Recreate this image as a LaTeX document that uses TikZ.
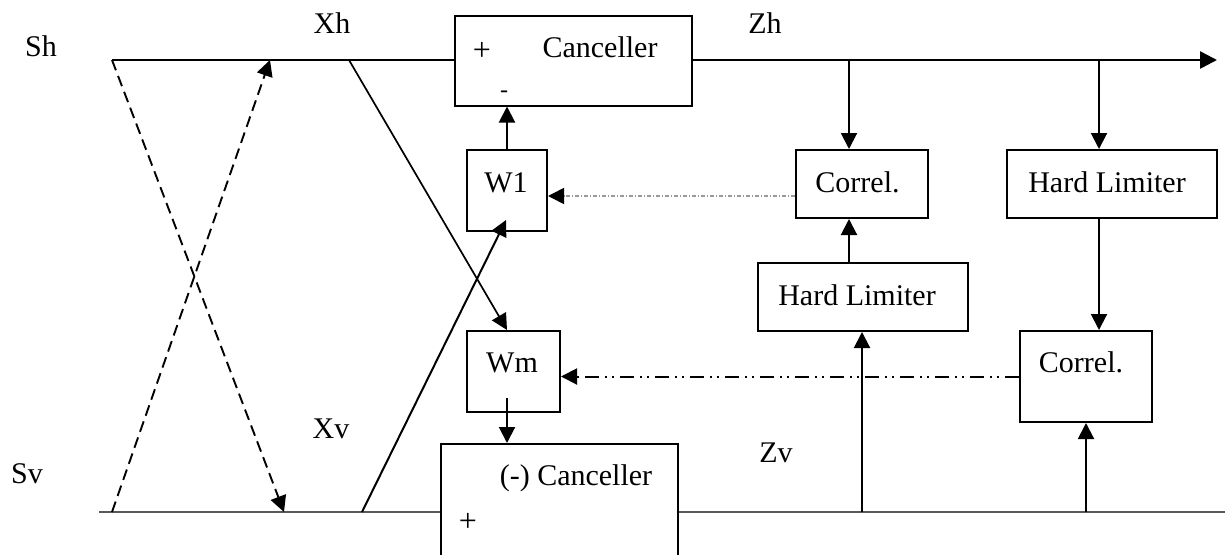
\documentclass[tikz,border=0pt]{standalone}
\usepackage{fontspec}
\setmainfont{Liberation Serif}
\usetikzlibrary{arrows.meta}
\begin{document}
\begin{tikzpicture}[x=1pt,y=-1pt,
  box/.style={draw,line width=2pt,rectangle,inner sep=0pt},
  lbl/.style={anchor=base,inner sep=0pt,font=\fontsize{30}{36}\selectfont},
  sgn/.style={anchor=center,inner sep=0pt,font=\fontsize{32}{36}\selectfont},
  msgn/.style={anchor=center,inner sep=0pt,font=\fontsize{24}{28}\selectfont},
  tip/.style={-{Triangle[length=16pt,width=16pt,black]}},
  arr/.style={line width=2pt,tip},
  thinline/.style={line width=1.3pt},
  graybus/.style={line width=1.6pt,draw=black!65},
  dsh/.style={line width=1.9pt,dash pattern=on 11pt off 6pt,tip},
  ddd/.style={line width=2pt,dash pattern=on 14pt off 6pt on 2pt off 5pt on 2pt off 6pt,tip},
  gdot/.style={line width=1.6pt,draw=black!40,dash pattern=on 4pt off 2pt on 1pt off 2pt,tip},
]
\clip (0,0) rectangle (1225,554);
\useasboundingbox (0,0) rectangle (1225,554);

% boxes
\node[box,minimum width=237pt,minimum height=90pt] (canc) at (573.5,60.5) {};
\node[box,minimum width=80pt,minimum height=81pt] (w1) at (507,190.5) {};
\node[box,minimum width=93pt,minimum height=81pt] (wm) at (513.5,371.5) {};
\node[box,minimum width=132pt,minimum height=68pt] (corr1) at (862,184) {};
\node[box,minimum width=210pt,minimum height=68pt] (hl1) at (1112,184) {};
\node[box,minimum width=210pt,minimum height=68pt] (hl2) at (863,297) {};
\node[box,minimum width=132pt,minimum height=91pt] (corr2) at (1086,376.5) {};
\node[box,minimum width=237pt,minimum height=150pt] (canc2) at (559.5,519) {};

% texts
\node[lbl] (tcanc) at (600,57) {Canceller};
\node[sgn] (tplus1) at (482,51) {+};
\node[msgn] (tminus1) at (504,94) {-};
\node[lbl] (tsh) at (41,56) {Sh};
\node[lbl] (txh) at (332,33) {Xh};
\node[lbl] (tzh) at (765,33) {Zh};
\node[lbl] (tw1) at (506,192) {W1};
\node[lbl] (tcorr1) at (857.5,192) {Correl.};
\node[lbl] (thl1) at (1107,192) {Hard Limiter};
\node[lbl] (thl2) at (857,305) {Hard Limiter};
\node[lbl] (tcorr2) at (1081,372) {Correl.};
\node[lbl] (twm) at (512,372) {Wm};
\node[lbl] (txv) at (331,438) {Xv};
\node[lbl] (tsv) at (27,483) {Sv};
\node[lbl] (tzv) at (776,462) {Zv};
\node[lbl] (tcanc2) at (576,485) {(-) Canceller};
\node[sgn] (tplus2) at (468,522) {+};

% coordinates
\coordinate (sh0) at (112,60);
\coordinate (sv0) at (99,512);
\coordinate (sv1) at (112,512);
\coordinate (dn) at (284,512);
\coordinate (up) at (270,60);
\coordinate (xh0) at (349,60);
\coordinate (xv0) at (362,512);
\coordinate (w1in) at (506,220);
\coordinate (wmout) at (507,398);
\coordinate (zhend) at (1217,60);
\coordinate (b1) at (849,60);
\coordinate (b2) at (1099,60);
\coordinate (z1) at (862,512);
\coordinate (z2) at (1086,512);
\coordinate (rend) at (1225,512);

% buses
\draw[thinline] (sh0) -- (sh0 -| canc.west);
\draw[line width=2.5pt,-{Triangle[length=17pt,width=17pt]}] (zhend -| canc.east) -- (zhend);
\draw[graybus] (sv0) -- (sv0 -| canc2.west);
\draw[graybus] (sv0 -| canc2.east) -- (rend);

% dashed crossing
\draw[dsh] (sh0) -- (dn);
\draw[dsh] (sv1) -- (up);

% solid diagonals
\draw[line width=1.7pt,tip] (xh0) -- (wmout |- wm.north);
\draw[line width=2pt,tip] (xv0) -- (w1in);

% vertical arrows
\draw[arr] (w1.north) -- (w1.north |- canc.south);
\draw[arr] (wmout) -- (wmout |- canc2.north);
\draw[arr] (b1) -- (b1 |- corr1.north);
\draw[arr] (b2) -- (b2 |- hl1.north);
\draw[arr] (b2 |- hl1.south) -- (b2 |- corr2.north);
\draw[arr] (b1 |- hl2.north) -- (b1 |- corr1.south);
\draw[arr] (z1) -- (z1 |- hl2.south);
\draw[arr] (z2) -- (z2 |- corr2.south);

% feedback lines
\draw[ddd] (corr2.west) -- (corr2.west -| wm.east);
\draw[gdot] ([yshift=-12pt]corr1.west) -- ([yshift=-12pt]corr1.west -| w1.east);
\end{tikzpicture}
\end{document}
